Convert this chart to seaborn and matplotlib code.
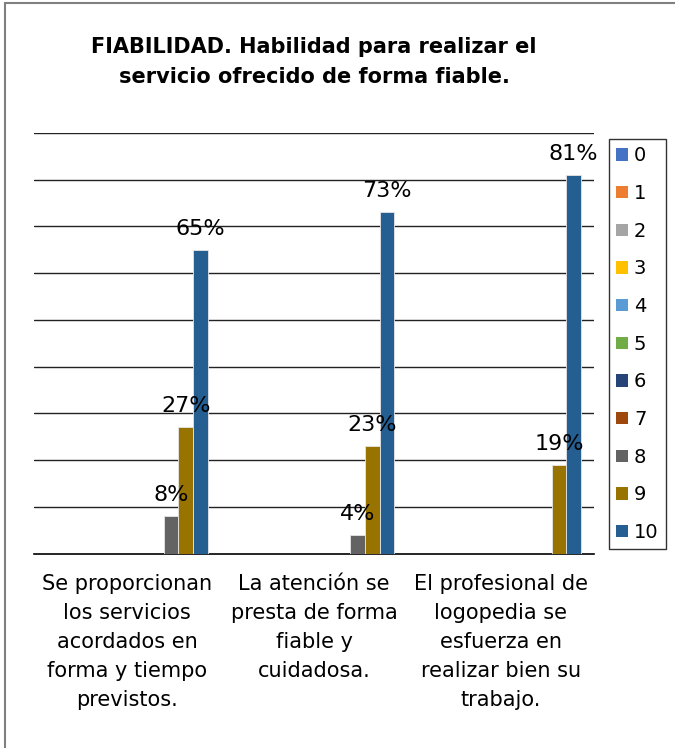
import matplotlib
matplotlib.use("Agg")
import matplotlib.pyplot as plt
from matplotlib.patches import Patch, Rectangle
import numpy as np
import pandas as pd
import seaborn as sns

categories = [
    "Se proporcionan\nlos servicios\nacordados en\nforma y tiempo\nprevistos.",
    "La atención se\npresta de forma\nfiable y\ncuidadosa.",
    "El profesional de\nlogopedia se\nesfuerza en\nrealizar bien su\ntrabajo.",
]
scores = [str(i) for i in range(11)]
# share of answers for each score (0..10), one list per question
values_q1 = [0, 0, 0, 0, 0, 0, 0, 0, 0.08, 0.27, 0.65]
values_q2 = [0, 0, 0, 0, 0, 0, 0, 0, 0.04, 0.23, 0.73]
values_q3 = [0, 0, 0, 0, 0, 0, 0, 0, 0.00, 0.19, 0.81]
colors = ["#4472C4", "#ED7D31", "#A5A5A5", "#FFC000", "#5B9BD5", "#70AD47",
          "#264478", "#9E480E", "#636363", "#997300", "#255E91"]
title = "FIABILIDAD. Habilidad para realizar el\nservicio ofrecido de forma fiable."

rows = []
for cat, vals in zip(categories, [values_q1, values_q2, values_q3]):
    for s, v in zip(scores, vals):
        rows.append({"pregunta": cat, "puntuacion": s, "valor": v})
df = pd.DataFrame(rows)

sns.set_style("white")
plt.rcParams["font.family"] = ["DejaVu Sans"]
plt.rcParams["text.color"] = "black"
plt.rcParams["xtick.color"] = "black"

fig = plt.figure(figsize=(6.75, 7.48), dpi=100)
ax = fig.add_axes([34 / 675, 1 - 553.5 / 748, (594 - 34) / 675, (553.5 - 133) / 748])

sns.barplot(data=df, x="pregunta", y="valor", hue="puntuacion", order=categories,
            hue_order=scores, palette=colors, saturation=1, width=0.86, gap=0,
            legend=False, edgecolor="#e6e6e6", linewidth=0.6, ax=ax, zorder=3)

# data labels only on non-zero bars
for cont, s in zip(ax.containers, scores):
    labs = [f"{v:.0%}" if v > 0 else "" for v in df[df.puntuacion == s]["valor"]]
    ax.bar_label(cont, labels=labs, padding=8, fontsize=16, color="black")

ax.set_ylim(0, 0.9)
ax.set_yticks(np.arange(0.1, 0.91, 0.1))
ax.set_yticklabels([])
ax.tick_params(axis="y", length=0)
ax.yaxis.grid(True, color="#222222", linewidth=1)
ax.set_axisbelow(True)
ax.set_xlim(-0.5, 2.5)
for sp in ["left", "right", "top"]:
    ax.spines[sp].set_visible(False)
ax.spines["bottom"].set_color("black")
ax.spines["bottom"].set_linewidth(1.2)

ax.set_xticks([0, 1, 2])
ax.set_xticklabels(categories, fontsize=15, linespacing=1.55, color="black")
ax.tick_params(axis="x", which="major", length=0, pad=15)
ax.set_xticks([-0.5, 0.5, 1.5, 2.5], minor=True)
ax.tick_params(axis="x", which="minor", length=6, width=1, color="black")
ax.set_xlabel("")
ax.set_ylabel("")

handles = [Patch(facecolor=c, edgecolor="none") for c in colors]
leg = fig.legend(handles, scores, loc="upper left", bbox_to_anchor=(609 / 675, 1 - 139 / 748),
                 fontsize=14, frameon=True, fancybox=False, labelspacing=0.96,
                 handlelength=0.6, handleheight=0.6, handletextpad=0.3,
                 borderpad=0.38, borderaxespad=0)
leg.get_frame().set_edgecolor("black")
leg.get_frame().set_linewidth(1)

fig.text(314 / 675, 1 - 62 / 748, title, ha="center", va="center",
         fontsize=15, fontweight="bold", linespacing=1.6)

fig.patches.append(Rectangle((5 / 675, -0.1), 1.2, 1 - 3 / 748 + 0.1,
                             transform=fig.transFigure, fill=False,
                             edgecolor="#808080", linewidth=1.5))

fig.savefig("out.png", dpi=100)
